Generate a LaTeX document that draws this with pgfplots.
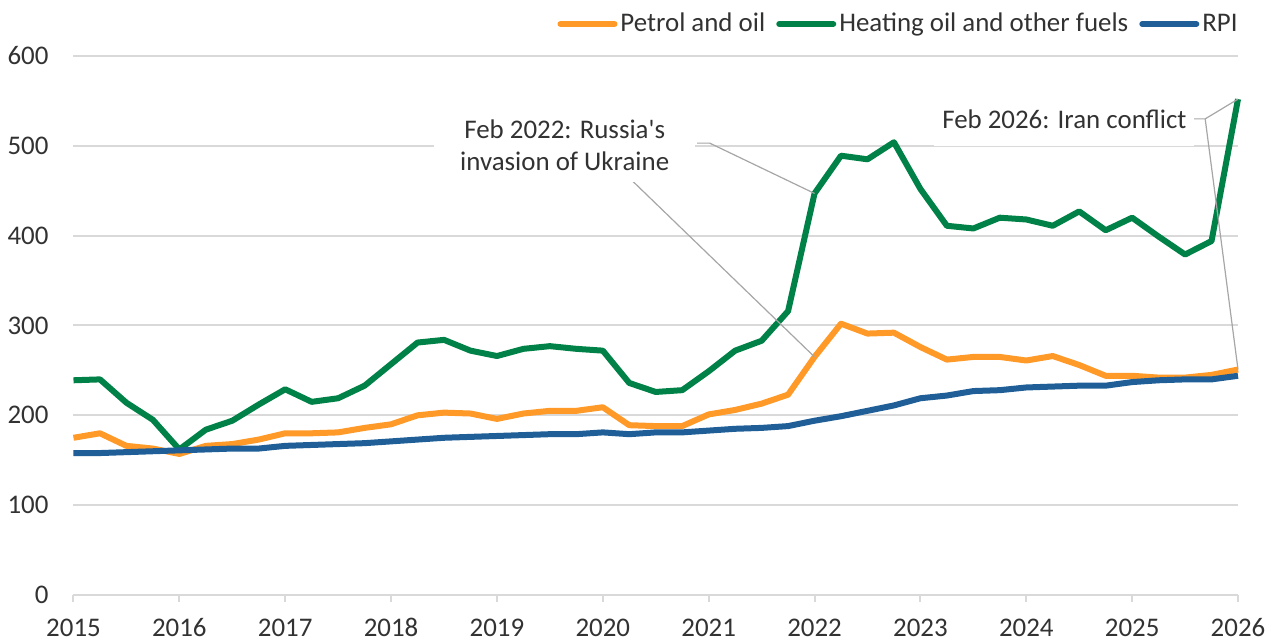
\documentclass[border=0pt]{standalone}
\usepackage{pgfplots}
\usepackage{pgfplotstable}
\pgfplotsset{compat=1.18}
\usepackage{fontspec}
\setmainfont{Carlito}
\definecolor{cOr}{RGB}{255,154,41}
\definecolor{cGr}{RGB}{0,129,71}
\definecolor{cBl}{RGB}{31,94,151}
\definecolor{cGrid}{RGB}{217,217,217}
\definecolor{cTxt}{RGB}{50,50,50}
\definecolor{cLead}{RGB}{166,166,166}
\newcommand\fs{\fontsize{13.5}{16}\selectfont}

\pgfplotstableread{
x petrol heating rpi
2015.00 175 239 158
2015.25 180 240 158
2015.50 166 214 159
2015.75 163 195 160
2016.00 157 162 161
2016.25 166 184 162
2016.50 168 194 163
2016.75 173 212 163
2017.00 180 229 166
2017.25 180 215 167
2017.50 181 219 168
2017.75 186 233 169
2018.00 190 257 171
2018.25 200 281 173
2018.50 203 284 175
2018.75 202 272 176
2019.00 196 266 177
2019.25 202 274 178
2019.50 205 277 179
2019.75 205 274 179
2020.00 209 272 181
2020.25 189 236 179
2020.50 188 226 181
2020.75 188 228 181
2021.00 201 249 183
2021.25 206 272 185
2021.50 213 283 186
2021.75 223 316 188
2022.00 265 447 194
2022.25 302 489 199
2022.50 291 485 205
2022.75 292 504 211
2023.00 276 452 219
2023.25 262 411 222
2023.50 265 408 227
2023.75 265 420 228
2024.00 261 418 231
2024.25 266 411 232
2024.50 256 427 233
2024.75 244 406 233
2025.00 244 420 237
2025.25 242 399 239
2025.50 242 379 240
2025.75 245 394 240
2026.00 251 552 244
}\datatable

\begin{document}
\begin{tikzpicture}
\begin{axis}[name=ax, scale only axis, width=582.25bp, height=269.5bp,
  xmin=2015, xmax=2026, ymin=0, ymax=600, clip=false,
  xtick={2015,2016,...,2026}, ytick={0,100,...,600},
  axis x line*=bottom, axis y line*=left,
  y axis line style={draw=none}, ytick style={draw=none},
  x axis line style={cGrid, line width=1bp, -},
  xtick style={cGrid, line width=1bp}, xtick align=outside,
  major tick length=3.5bp,
  ymajorgrids, grid style={cGrid, line width=1bp},
  /pgf/number format/assume math mode=true,
  /pgf/number format/1000 sep={},
  tick label style={font=\fs, text=cTxt},
  yticklabel style={xshift=-9bp},
  xticklabel style={yshift=-6bp, text height=1.6ex, text depth=0pt},
  legend style={at={(1,1)}, anchor=east, xshift=1.5bp, yshift=16bp,
    draw=none, fill=none, font=\fs, text=cTxt, inner sep=0pt,
    nodes={inner sep=1.5bp},
    /tikz/every even column/.append style={column sep=4bp}},
  legend columns=3, legend cell align=left,
  legend image code/.code={\draw[#1, line cap=round] (0bp,0bp) -- (27bp,0bp);},
  every axis plot/.append style={line width=3bp, line join=round}
]
\addplot[cOr] table[x=x, y=petrol] {\datatable};
\addlegendentry{Petrol and oil}
\addplot[cGr] table[x=x, y=heating] {\datatable};
\addlegendentry{Heating oil and other fuels}
\addplot[cBl] table[x=x, y=rpi] {\datatable};
\addlegendentry{RPI}

% leader lines
\draw[cLead, line width=0.6bp] (axis cs:2020.20,470) -- (axis cs:2022,265);
\draw[cLead, line width=0.6bp] (axis cs:2020.89,503) -- (axis cs:2021.01,503) -- (axis cs:2022,447);
\draw[cLead, line width=0.6bp] (axis cs:2025.55,530) -- (axis cs:2025.69,530) -- (axis cs:2026,552);
\draw[cLead, line width=0.6bp] (axis cs:2025.69,530) -- (axis cs:2026,251);
\node[fill=white, inner xsep=13bp, inner ysep=6bp, align=center, font=\fs, text=cTxt]
  at (axis cs:2019.64,501) {Feb 2022: Russia\textquotesingle s\\invasion of Ukraine};
\node[fill=white, inner xsep=4bp, inner ysep=9bp, font=\fs, text=cTxt]
  at (axis cs:2024.36,530) {Feb 2026: Iran conflict};
\end{axis}
\pgfresetboundingbox
\path ([shift={(-36.75bp,-23bp)}]ax.south west) rectangle ([shift={(21bp,28bp)}]ax.north east);
\end{tikzpicture}
\end{document}
